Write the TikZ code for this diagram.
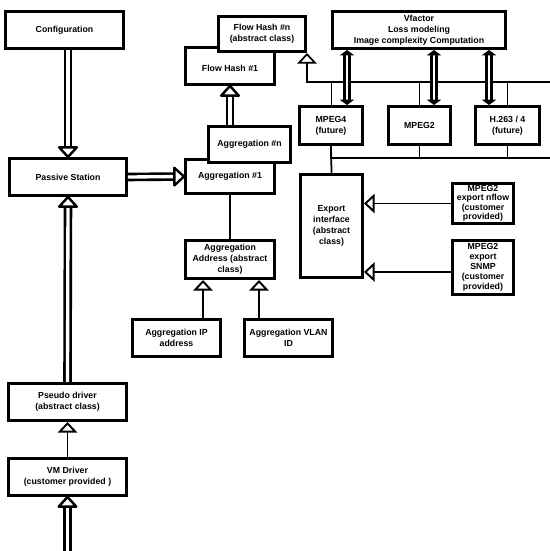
\documentclass[tikz,border=0pt]{standalone}
\usepackage{fontspec}
\setmainfont{Liberation Sans}
\usetikzlibrary{arrows.meta,decorations.markings}
\begin{document}
\begin{tikzpicture}[x=0.02cm,y=-0.02cm,
		cls/.style={draw,line width=1.7pt,fill=white,align=center,inner sep=1pt,font=\bfseries\fontsize{5}{6.2}\selectfont},
		isa/.style={line width=1.1pt,-{Triangle[open,fill=white,width=11pt,length=6pt]}},
		pass/.style={double,double distance=1.9pt,line width=1.5pt,shorten >=3pt,
			postaction={decorate,decoration={markings,mark=at position 1 with {\draw[line width=1.4pt,fill=white,line join=round] (-5.5pt,5pt) -- (0pt,0pt) -- (-5.5pt,-5pt) -- cycle;}}}},
		link/.style={double,double distance=1.4pt,line width=1.3pt,{Triangle[width=8pt,length=3pt]}-{Triangle[width=8pt,length=3pt]}},
		bus/.style={line width=1pt},
		tap/.style={line width=0.5pt}]
		\useasboundingbox (0,0) rectangle (550,551);
		\node[cls,minimum width=2.36cm,minimum height=0.74cm] (config) at (64.5,30) {Configuration};
		\node[cls,minimum width=2.34cm,minimum height=0.74cm] (passive) at (68,177) {Passive Station};
		\node[cls,minimum width=2.36cm,minimum height=0.74cm] (pseudo) at (67.5,402) {Pseudo driver\\(abstract class)};
		\node[cls,minimum width=2.36cm,minimum height=0.74cm] (vmdrv) at (67.5,477) {VM Driver\\(customer provided )};
		\node[cls,minimum width=1.78cm,minimum height=0.74cm] (flow1) at (230,66) {\\Flow Hash \#1};
		\node[cls,minimum width=1.74cm,minimum height=0.70cm] (flown) at (262,34) {Flow Hash \#n\\(abstract class)};
		\node[cls,minimum width=1.78cm,minimum height=0.68cm] (agg1) at (230,176.5) {Aggregation \#1};
		\node[cls,minimum width=1.64cm,minimum height=0.72cm] (aggn) at (249.5,144.5) {Aggregation \#n};
		\node[cls,minimum width=1.78cm,minimum height=0.76cm] (aggaddr) at (230,259.5) {Aggregation\\Address (abstract\\class)};
		\node[cls,minimum width=1.76cm,minimum height=0.74cm] (aggip) at (176.5,338) {Aggregation IP\\address};
		\node[cls,minimum width=1.76cm,minimum height=0.74cm] (aggvlan) at (288.5,338) {Aggregation VLAN\\ID};
		\node[cls,minimum width=3.46cm,minimum height=0.74cm] (vfactor) at (419,30) {Vfactor\\Loss modeling\\Image complexity Computation};
		\node[cls,minimum width=1.26cm,minimum height=0.76cm] (mpeg4) at (331,125.5) {MPEG4\\(future)};
		\node[cls,minimum width=1.24cm,minimum height=0.76cm] (mpeg2) at (419.5,125.5) {MPEG2};
		\node[cls,minimum width=1.28cm,minimum height=0.76cm] (h263) at (507.5,125.5) {H.263 / 4\\(future)};
		\node[cls,minimum width=1.24cm,minimum height=2.06cm] (export) at (331.5,226) {Export\\interface\\(abstract\\class)};
		\node[cls,minimum width=1.22cm,minimum height=0.76cm,font=\bfseries\fontsize{5}{5.4}\selectfont] (nflow) at (483,203.5) {MPEG2\\export nflow\\(customer\\provided)};
		\node[cls,minimum width=1.22cm,minimum height=1.08cm,font=\bfseries\fontsize{5}{5.6}\selectfont] (snmp) at (483,267.5) {MPEG2\\export\\SNMP\\(customer\\provided)};
		\coordinate (busA) at (550,82);
		\coordinate (busB) at (550,158);
		\coordinate (feed) at (67.5,551);
		\draw[pass] (passive.north |- config.south) -- (passive.north);
		\draw[pass] (passive.east) -- (agg1.west);
		\draw[pass] (pseudo.north) -- (passive.south);
		\draw[pass] (feed) -- (vmdrv.south);
		\draw[pass] (flow1.south |- aggn.north) -- (flow1.south);
		\draw[isa] (vmdrv.north) -- (pseudo.south);
		\draw[line width=1.1pt] (agg1.south) -- (aggaddr.north);
		\coordinate (ipup) at ([xshift=-0.54cm]aggaddr.south);
		\coordinate (vlanup) at ([xshift=0.58cm]aggaddr.south);
		\draw[isa] (ipup |- aggip.north) -- (ipup);
		\draw[isa] (vlanup |- aggvlan.north) -- (vlanup);
		\draw[isa,line width=1pt] (busA) -| (flown.south east);
		\draw[tap] (mpeg4.north) -- (mpeg4.north |- busA);
		\draw[tap] (mpeg2.north) -- (mpeg2.north |- busA);
		\draw[tap] (h263.north) -- (h263.north |- busA);
		\draw[bus] (busB) -| (mpeg4.south);
		\draw[bus] (mpeg4.south) -- (export.north);
		\draw[tap] (mpeg2.south) -- (mpeg2.south |- busB);
		\draw[tap] (h263.south) -- (h263.south |- busB);
		\coordinate (m4top) at ([xshift=0.32cm]mpeg4.north);
		\coordinate (m2top) at ([xshift=0.29cm]mpeg2.north);
		\coordinate (h2top) at ([xshift=-0.37cm]h263.north);
		\draw[link] (m4top |- vfactor.south) -- (m4top);
		\draw[link] (m2top |- vfactor.south) -- (m2top);
		\draw[link] (h2top |- vfactor.south) -- (h2top);
		\draw[isa] (nflow.west) -- (nflow.west -| export.east);
		\draw[isa] ([yshift=-0.09cm]snmp.west) -- ([yshift=-0.09cm]snmp.west -| export.east);
	\end{tikzpicture}
\end{document}
